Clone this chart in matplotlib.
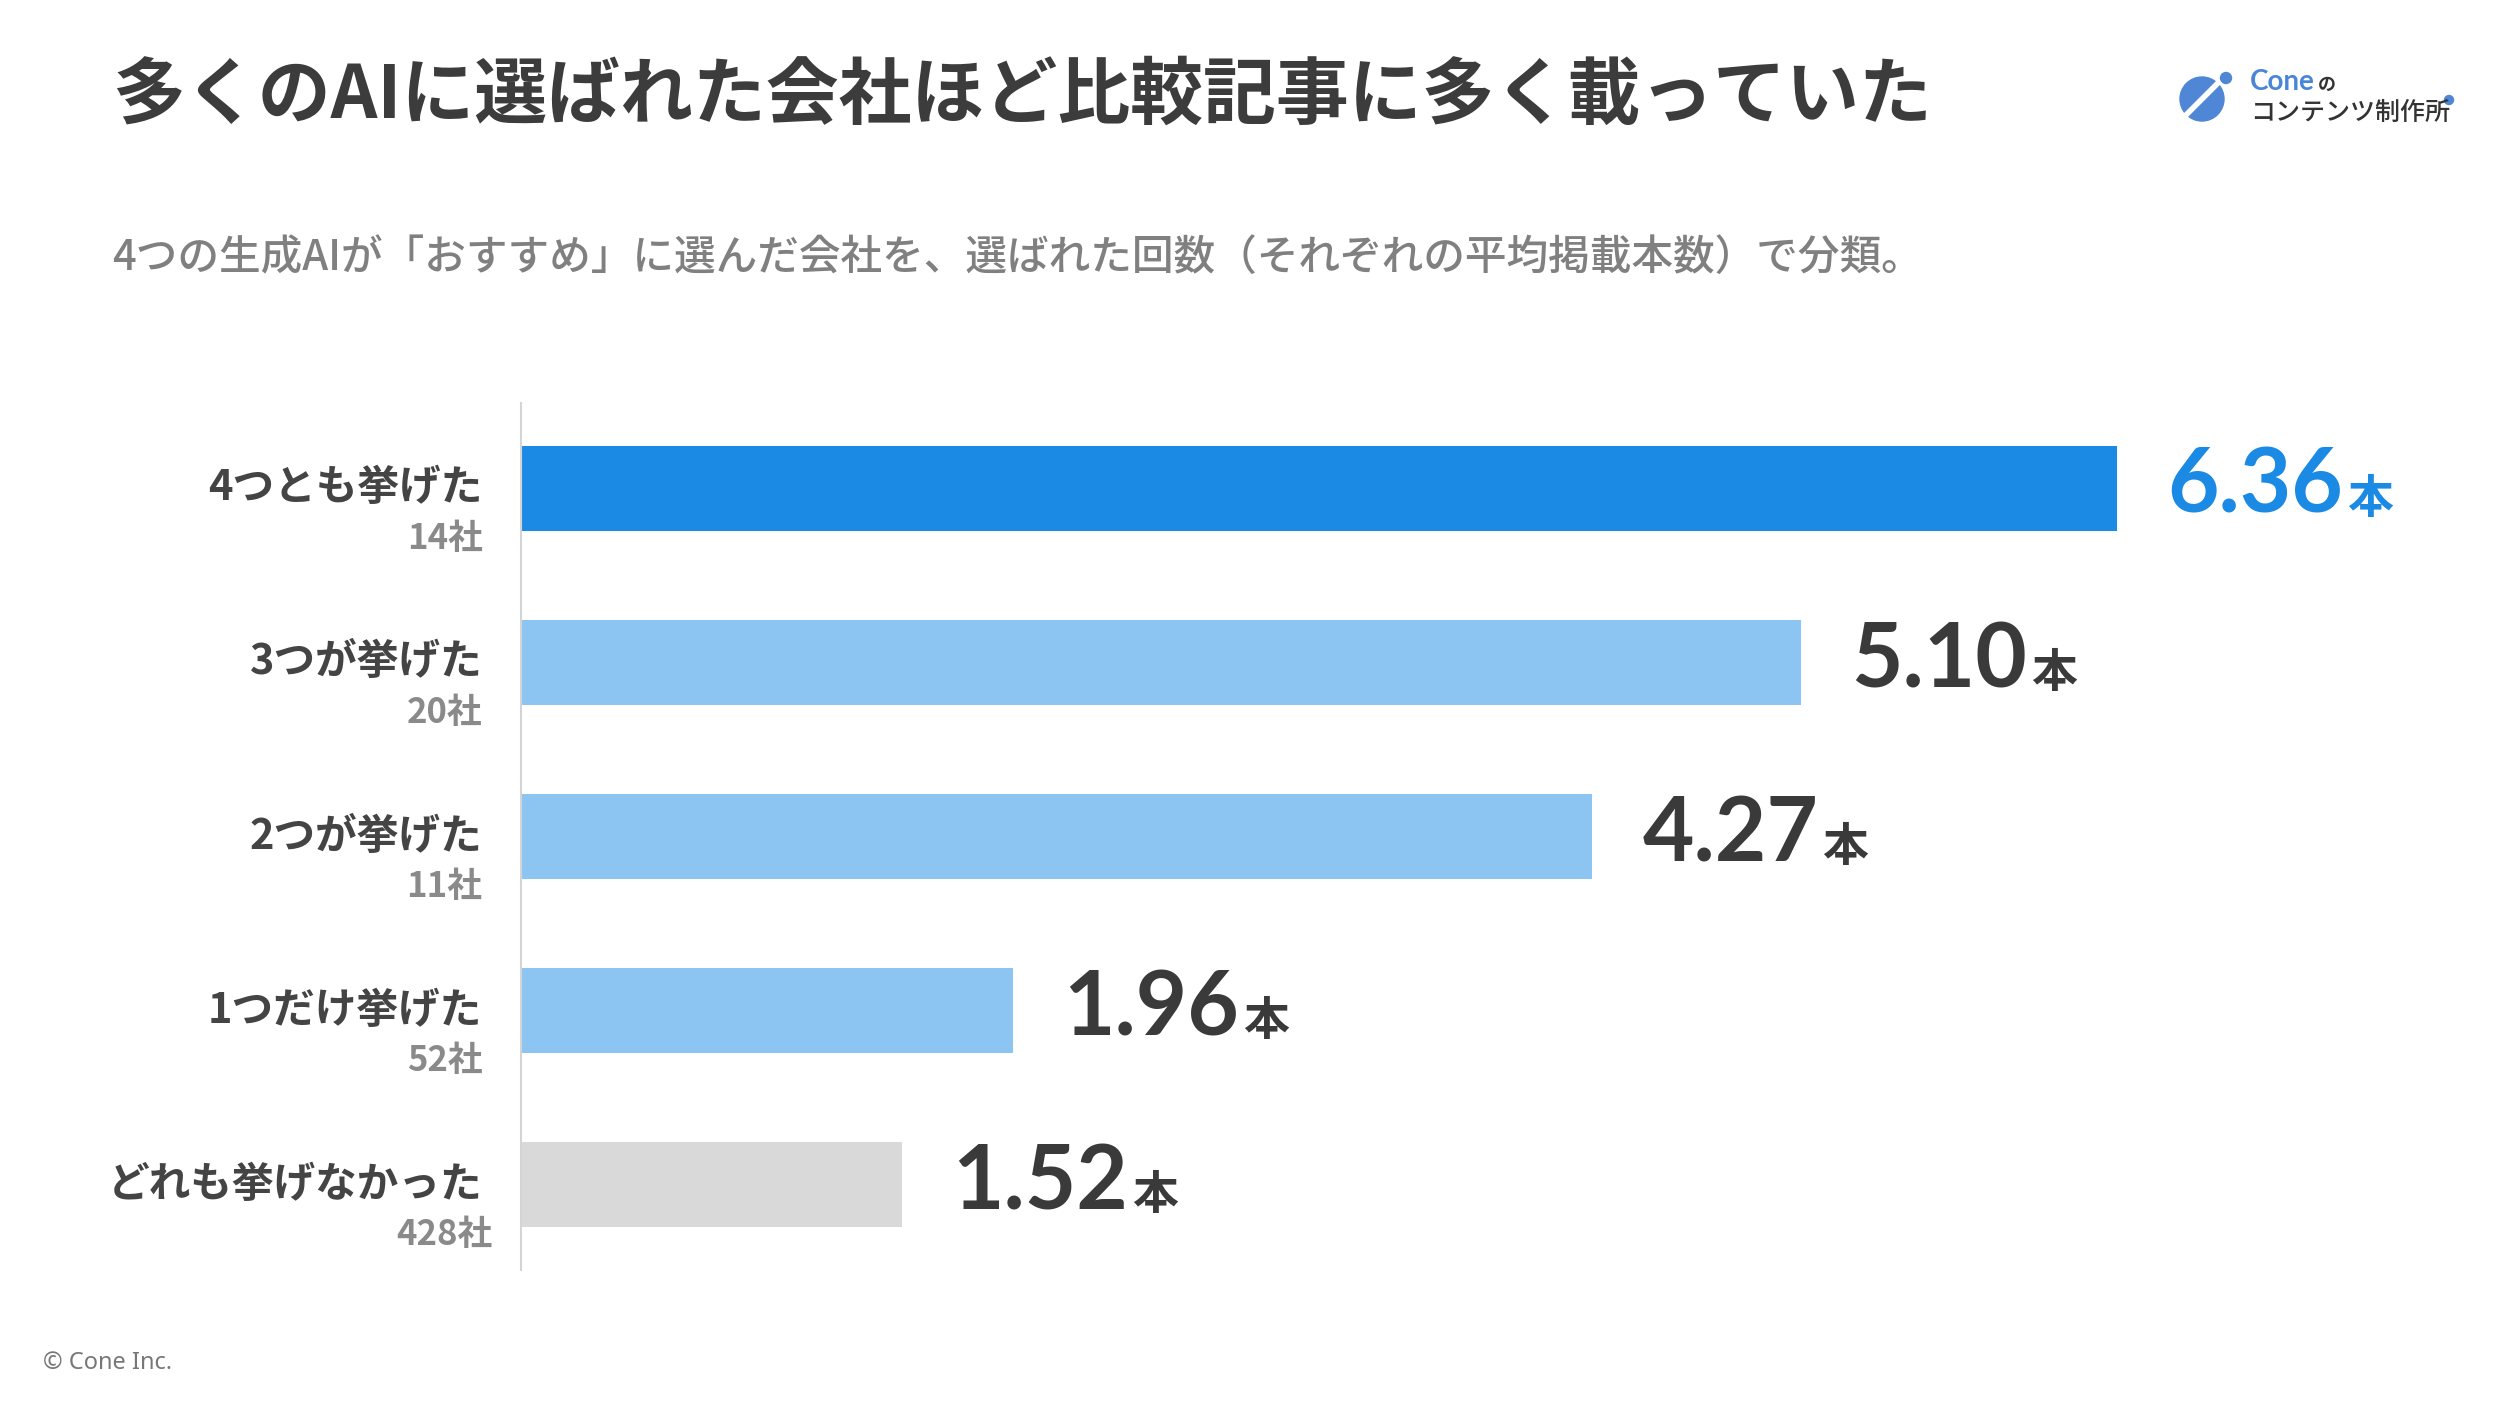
import matplotlib
matplotlib.use("Agg")
import matplotlib.pyplot as plt
from matplotlib.patches import Circle
from matplotlib.offsetbox import AnnotationBbox, HPacker, TextArea

plt.rcParams["font.family"] = ["Noto Sans CJK JP", "DejaVu Sans"]

# データ
categories = ["4つとも挙げた", "3つが挙げた", "2つが挙げた", "1つだけ挙げた", "どれも挙げなかった"]
company_counts = ["14社", "20社", "11社", "52社", "428社"]
avg_articles = [6.36, 5.10, 4.27, 1.96, 1.52]
bar_colors = ["#1a8ae4", "#8dc5f2", "#8dc5f2", "#8dc5f2", "#d9d9d9"]
label_colors = ["#1a8ae4", "#3a3a3a", "#3a3a3a", "#3a3a3a", "#3a3a3a"]

TITLE = "多くのAIに選ばれた会社ほど比較記事に多く載っていた"
SUBTITLE = "4つの生成AIが「おすすめ」に選んだ会社を、選ばれた回数（それぞれの平均掲載本数）で分類。"

NUM_FONT = ["Lato", "Open Sans", "DejaVu Sans"]

W, H = 2500, 1406
fig = plt.figure(figsize=(W / 100, H / 100), dpi=100, facecolor="white")

# 見出し
fig.text(112 / W, 1 - 96 / H, TITLE, fontsize=52.5, fontweight="bold",
         color="#3c3c3c", va="center", ha="left")
fig.text(112 / W, 1 - 257 / H, SUBTITLE, fontsize=30, fontweight="medium",
         color="#808080", va="center", ha="left")
fig.text(43 / W, 1 - 1363 / H, "© Cone Inc.", fontsize=17, color="#777777",
         va="center", ha="left", family=["Noto Sans", "DejaVu Sans"])

# 棒グラフ
ax_left, ax_right = 521, 2398
ax_top, ax_bottom = 403, 1270
ax = fig.add_axes([ax_left / W, 1 - ax_bottom / H,
                   (ax_right - ax_left) / W, (ax_bottom - ax_top) / H])
y = list(range(len(categories)))
ax.barh(y, avg_articles, height=0.49, color=bar_colors)
ax.set_xlim(0, 7.48)
ax.set_ylim(len(categories) - 0.51, -0.49)

for s in ["top", "right", "bottom"]:
    ax.spines[s].set_visible(False)
ax.spines["left"].set_color("#d4d4d4")
ax.spines["left"].set_linewidth(1.5)
ax.set_xticks([])
ax.set_yticks([])

for i, (cat, cnt, val, col) in enumerate(zip(categories, company_counts, avg_articles, label_colors)):
    ax.annotate(cat, xy=(0, i), xycoords=("axes fraction", "data"),
                xytext=(-28, 0), textcoords="offset points",
                ha="right", va="center", fontsize=30, fontweight="bold", color="#444444")
    ax.annotate(cnt, xy=(0, i), xycoords=("axes fraction", "data"),
                xytext=(-55, -36), textcoords="offset points",
                ha="center", va="center", fontsize=25, fontweight="bold", color="#8a8a8a")
    num = TextArea(f"{val:.2f}", textprops=dict(fontsize=64, fontweight="bold", color=col,
                                                 family=NUM_FONT))
    unit = TextArea("本", textprops=dict(fontsize=33, fontweight="bold", color=col))
    box = HPacker(children=[num, unit], align="baseline", pad=0, sep=3)
    ab = AnnotationBbox(box, (val, i), xybox=(36, 1), xycoords="data",
                        boxcoords="offset points", box_alignment=(0, 0.5),
                        frameon=False, pad=0)
    ax.add_artist(ab)

# ロゴ
logo = fig.add_axes([2172 / W, 1 - 130 / H, 64 / W, 64 / H])
logo.set_xlim(0, 64)
logo.set_ylim(0, 64)
logo.set_aspect("equal")
logo.axis("off")
logo.add_patch(Circle((30, 31), 22, color="#4f86d6"))
logo.plot([12, 48], [13, 49], color="white", linewidth=4, solid_capstyle="butt")
logo.add_patch(Circle((54, 52), 5.5, color="#4f86d6"))

fig.text(2250 / W, 1 - 82 / H, "Cone", fontsize=20, color="#4a86d8",
         fontweight="bold", va="center", ha="left", family=NUM_FONT)
fig.text(2318 / W, 1 - 84 / H, "の", fontsize=13, color="#333333",
         fontweight="bold", va="center", ha="left")
fig.text(2250 / W, 1 - 113 / H, "コンテンツ制作所", fontsize=18, color="#333333",
         fontweight="medium", va="center", ha="left")
fig.patches.append(Circle((2449, H - 100), 4.5, color="#4f86d6",
                          transform=None, figure=fig))

fig.savefig("out.png", dpi=100, facecolor="white")
